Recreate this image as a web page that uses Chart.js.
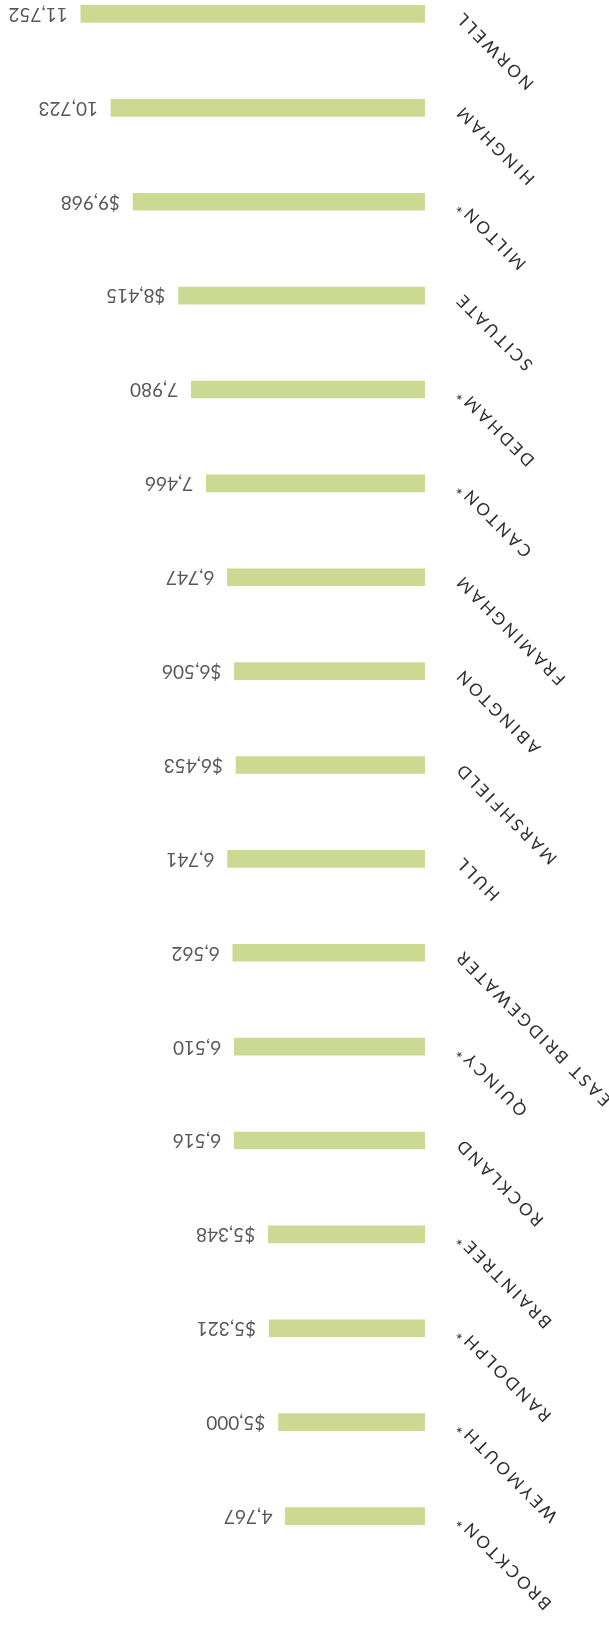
<!DOCTYPE html>
<html>
<head>
<meta charset="utf-8">
<script src="https://cdn.jsdelivr.net/npm/chart.js@4/dist/chart.umd.min.js"></script>
<style>
  html, body { margin: 0; padding: 0; background: #fff; }
  body { width: 609px; height: 1634px; overflow: hidden; position: relative; }
  /* the chart is printed upside down, so the whole canvas is turned */
  #chart { position: absolute; left: 0; top: -66px; transform: rotate(180deg); }
</style>
</head>
<body>
<canvas id="chart" width="609" height="1700"></canvas>
<script>
var towns = [
  'BROCKTON*', 'WEYMOUTH*', 'RANDOLPH*', 'BRAINTREE*', 'ROCKLAND', 'QUINCY*',
  'EAST BRIDGEWATER', 'HULL', 'MARSHFIELD', 'ABINGTON', 'FRAMINGHAM', 'CANTON*',
  'DEDHAM*', 'SCITUATE', 'MILTON*', 'HINGHAM', 'NORWELL'
];

var amounts = [
  4767, 5000, 5321, 5348, 6516, 6510,
  6562, 6741, 6453, 6506, 6747, 7466,
  7980, 8415, 9968, 10723, 11752
];

// some of the printed figures carry a dollar sign, some don't
var dollarSign = [
  false, true, true, true, false, false,
  false, false, true, true, false, false,
  false, true, true, false, false
];

var xTicks = {min: 0, max: 14000};

var barColour = '#cbd993';

function amountLabel(i){
  return (dollarSign[i] ? '$' : '') + amounts[i].toLocaleString('en-US');
}

// tick labels are spaced out, the value labels aren't
var spacing = {
  id: 'spacing',
  beforeDraw: function(chart){
    chart.ctx.letterSpacing = '3px';
  },
  beforeDatasetsDraw: function(chart){
    chart.ctx.letterSpacing = '0px';
  }
};

var valueLabels = {
  id: 'valueLabels',
  afterDatasetsDraw: function(chart){
    var ctx = chart.ctx;
    var bars = chart.getDatasetMeta(0).data;
    ctx.save();
    ctx.letterSpacing = '0px';
    ctx.font = '19px Lato, "DejaVu Sans", sans-serif';
    ctx.fillStyle = '#585858';
    ctx.textAlign = 'left';
    ctx.textBaseline = 'middle';
    bars.forEach(function(bar, i){
      ctx.fillText(amountLabel(i), bar.x + 13, bar.y);
    });
    ctx.restore();
  }
};

new Chart(document.getElementById('chart'), {
  type: 'bar',
  data: {
    labels: towns,
    datasets: [{
      data: amounts,
      backgroundColor: barColour,
      borderWidth: 0,
      barThickness: 17
    }]
  },
  options: {
    indexAxis: 'y',
    responsive: false,
    animation: false,
    devicePixelRatio: 1,
    layout: {padding: {top: 71, bottom: 33, left: 0, right: 15}},
    plugins: {legend: {display: false}, tooltip: {enabled: false}},
    scales: {
      x: {
        display: false,
        min: xTicks.min,
        max: xTicks.max
      },
      y: {
        grid: {display: false},
        border: {display: false},
        ticks: {
          minRotation: -45,
          maxRotation: -45,
          padding: 25,
          color: '#2f2f2f',
          font: {family: 'Lato, "DejaVu Sans", sans-serif', size: 17}
        },
        afterFit: function(scale){
          scale.width = 184;
          scale.paddingTop = 0;
          scale.paddingBottom = 0;
        }
      }
    }
  },
  plugins: [spacing, valueLabels]
});
</script>
</body>
</html>
